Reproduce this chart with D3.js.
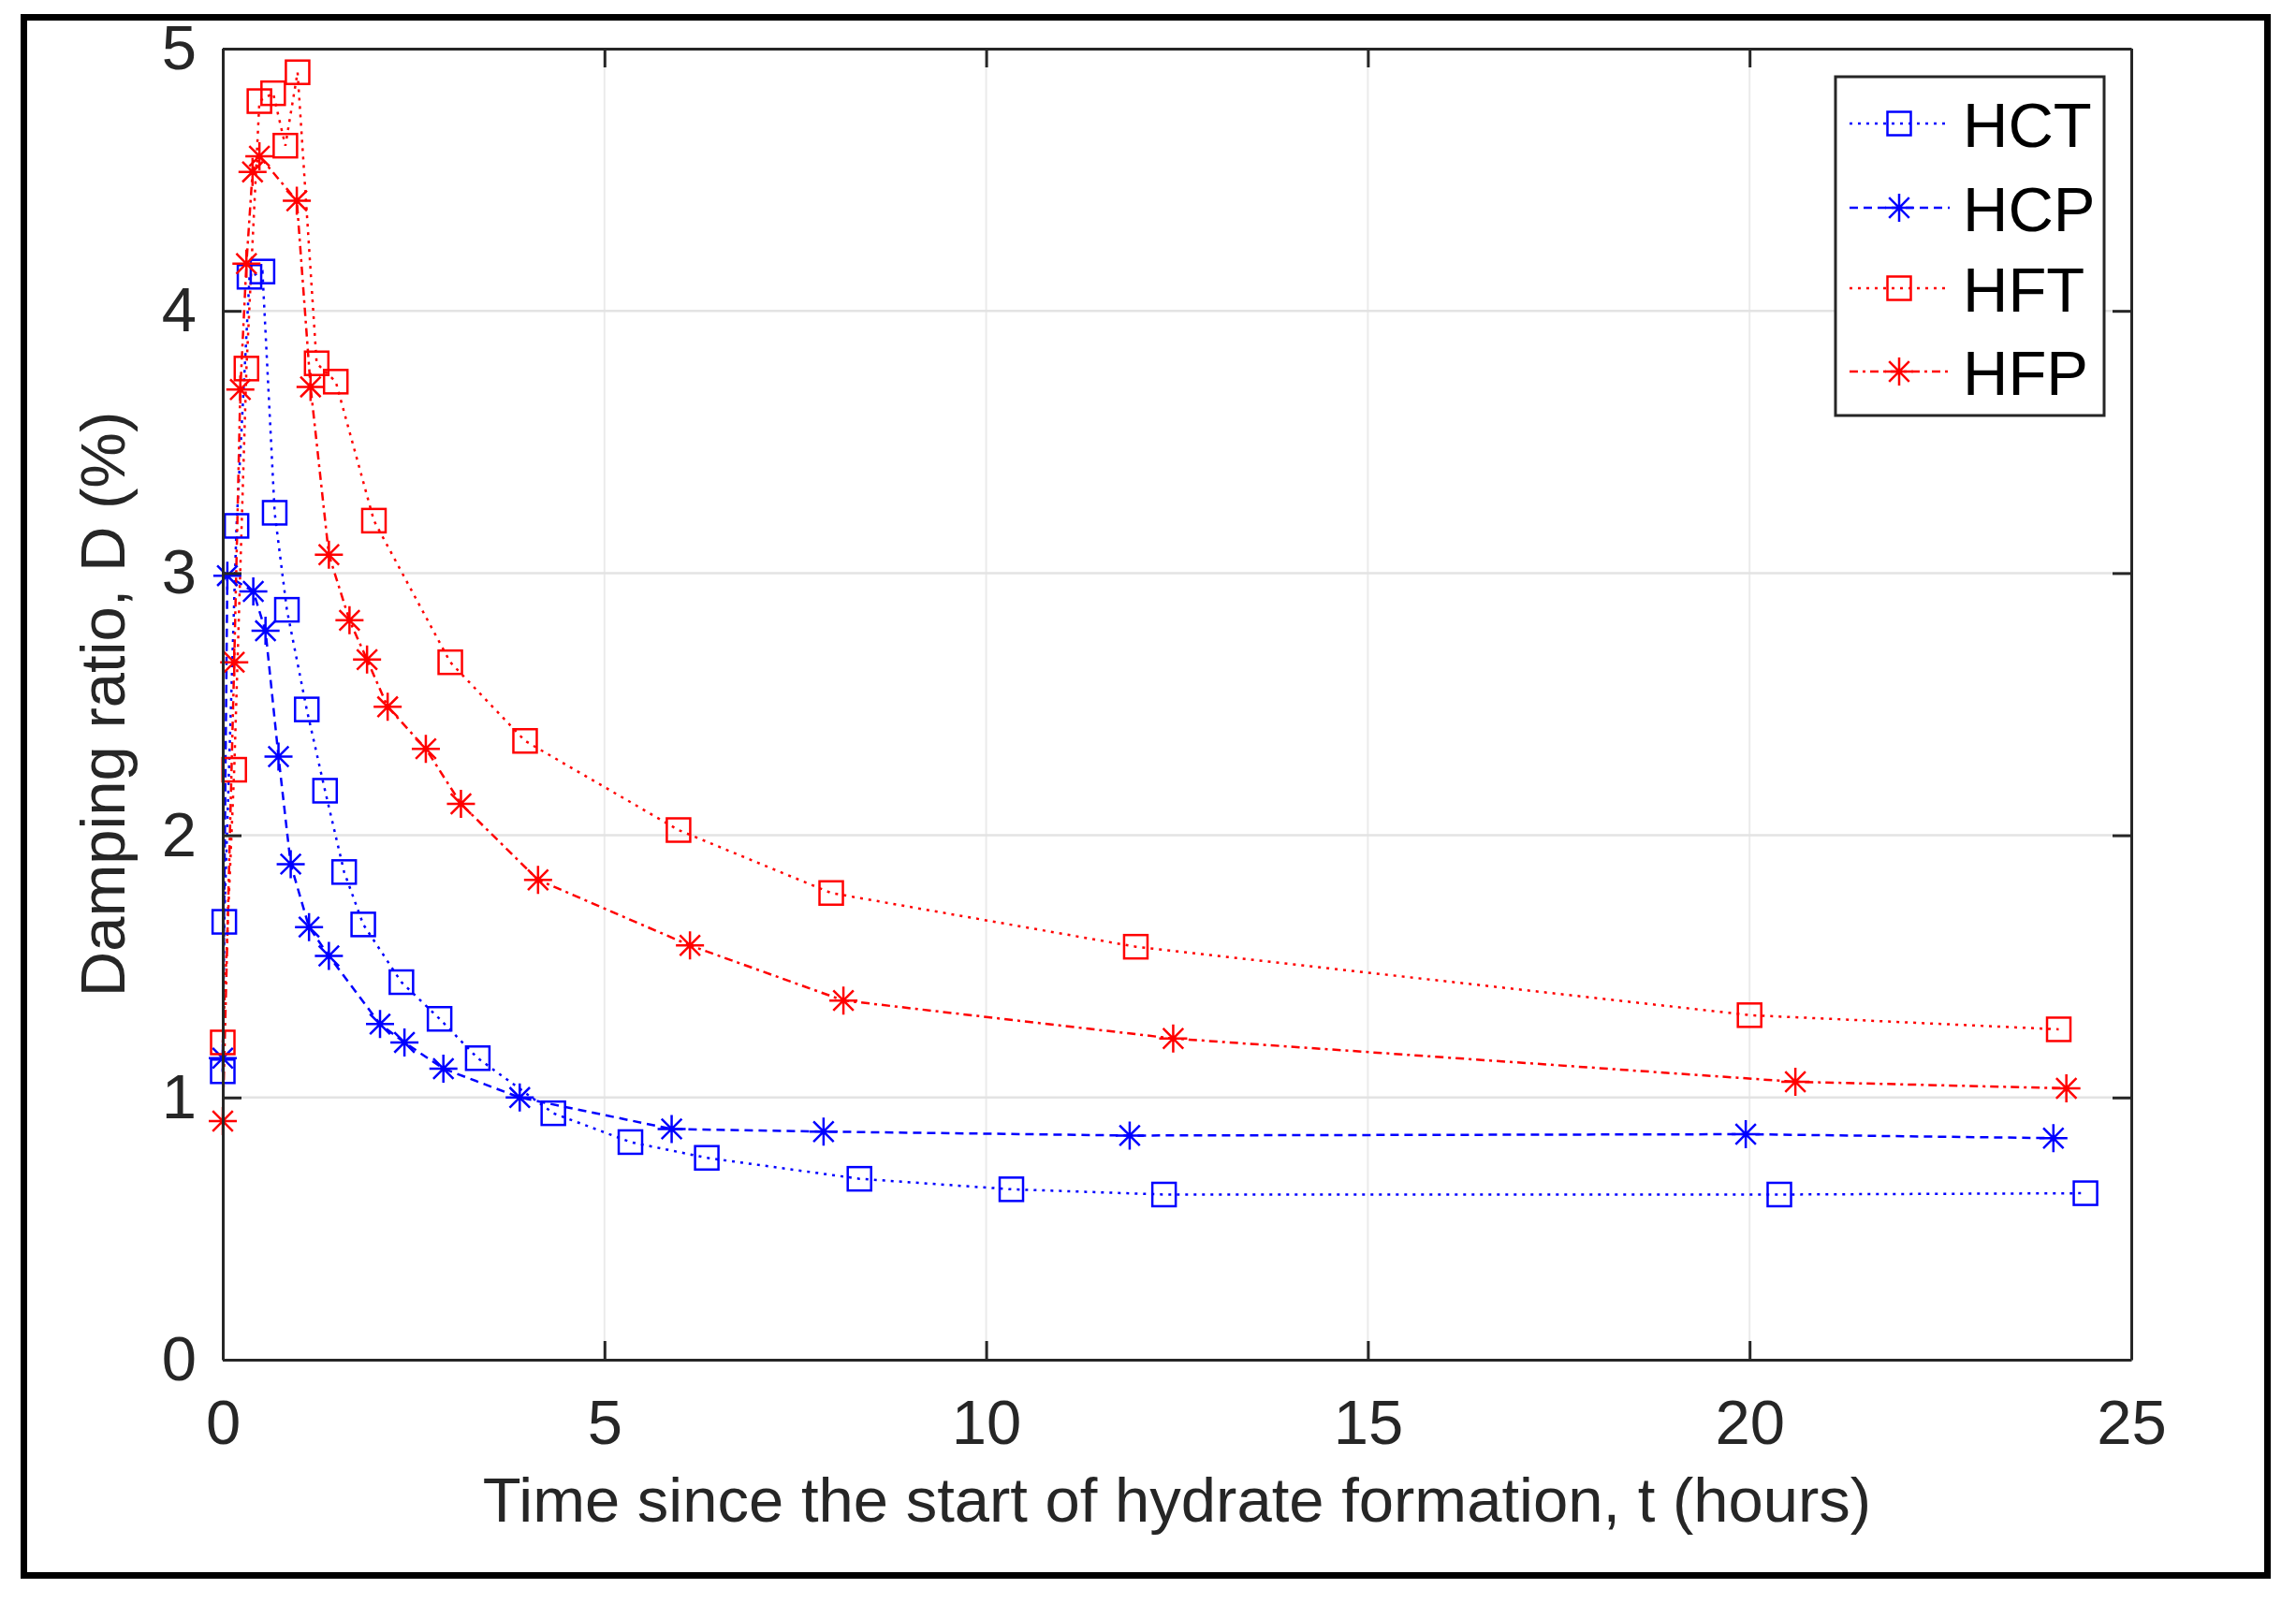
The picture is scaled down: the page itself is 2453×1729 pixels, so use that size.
<!DOCTYPE html>
<html lang="en">
<head>
<meta charset="UTF-8">
<title>Damping ratio vs time</title>
<style>
  body { margin: 0; background: #fff; }
  text { font-family: "Liberation Sans", Arial, sans-serif; }
</style>
</head>
<body>
<svg id="chart" width="2453" height="1729"></svg>
<script src="https://d3js.org/d3.v7.min.js"></script>
<script>
// values
const hctT = [0, 0.02, 0.18, 0.35, 0.52, 0.68, 0.84, 1.1, 1.34, 1.59, 1.84, 2.34, 2.84, 3.34, 4.33, 5.34, 6.34, 8.34, 10.33, 12.33, 20.39, 24.4];
const hctD = [1.1, 1.67, 3.18, 4.13, 4.15, 3.23, 2.86, 2.48, 2.17, 1.86, 1.66, 1.44, 1.3, 1.15, 0.94, 0.83, 0.77, 0.69, 0.65, 0.63, 0.63, 0.635];

const hcpT = [0, 0.06, 0.4, 0.56, 0.73, 0.89, 1.13, 1.39, 2.06, 2.38, 2.89, 3.89, 5.88, 7.87, 11.88, 19.95, 23.98];
const hcpD = [1.15, 2.99, 2.93, 2.78, 2.3, 1.89, 1.65, 1.54, 1.28, 1.21, 1.11, 1.0, 0.88, 0.87, 0.855, 0.86, 0.845];

const hftT = [0, 0.15, 0.31, 0.48, 0.66, 0.82, 0.98, 1.23, 1.48, 1.98, 2.98, 3.96, 5.97, 7.97, 11.96, 20.0, 24.05];
const hftD = [1.21, 2.25, 3.78, 4.8, 4.83, 4.63, 4.91, 3.8, 3.73, 3.2, 2.66, 2.36, 2.02, 1.78, 1.575, 1.314, 1.26];

const hfpT = [0, 0.15, 0.23, 0.31, 0.39, 0.48, 0.97, 1.15, 1.39, 1.66, 1.89, 2.16, 2.66, 3.12, 4.13, 6.12, 8.13, 12.45, 20.6, 24.15];
const hfpD = [0.91, 2.66, 3.7, 4.18, 4.53, 4.59, 4.42, 3.71, 3.07, 2.82, 2.67, 2.49, 2.33, 2.12, 1.83, 1.58, 1.37, 1.225, 1.06, 1.035];

const seriesNames = ["HCT", "HCP", "HFT", "HFP"];
const xTicks = [0, 5, 10, 15, 20, 25];
const yTicks = [0, 1, 2, 3, 4, 5];

const series = [
  { name: seriesNames[0], t: hctT, d: hctD, color: "#0000ff", marker: "square", dash: "3,6" },
  { name: seriesNames[1], t: hcpT, d: hcpD, color: "#0000ff", marker: "star", dash: "9,6" },
  { name: seriesNames[2], t: hftT, d: hftD, color: "#ff0000", marker: "square", dash: "3,6" },
  { name: seriesNames[3], t: hfpT, d: hfpD, color: "#ff0000", marker: "star", dash: "9,5,3,5" }
];

const svg = d3.select("#chart");
const pLeft = 238, pRight = 2277, pTop = 52, pBottom = 1453;
const axisColor = "#262626";

svg.append("rect").attr("width", 2453).attr("height", 1729).attr("fill", "#fff");

// outer frame
svg.append("rect")
  .attr("x", 25.5).attr("y", 18.5)
  .attr("width", 2397).attr("height", 1665)
  .attr("fill", "none").attr("stroke", "#000").attr("stroke-width", 7);

const x = d3.scaleLinear().domain([0, 25]).range([pLeft, pRight]);
const y = d3.scaleLinear().domain([0, 5]).range([pBottom, pTop]);

// grid
svg.append("g").selectAll("line").data(xTicks.slice(1, -1)).join("line")
  .attr("x1", d => x(d)).attr("x2", d => x(d))
  .attr("y1", pTop).attr("y2", pBottom)
  .attr("stroke", "#ebebeb").attr("stroke-width", 2);
svg.append("g").selectAll("line").data(yTicks.slice(1, -1)).join("line")
  .attr("x1", pLeft).attr("x2", pRight)
  .attr("y1", d => y(d)).attr("y2", d => y(d))
  .attr("stroke", "#e3e3e3").attr("stroke-width", 2.5);

// axes with inward ticks on all sides
const tickLen = 20;
const xAxisB = d3.axisBottom(x).tickValues(xTicks).tickFormat(d3.format("d"))
  .tickSizeInner(-tickLen).tickSizeOuter(0).tickPadding(tickLen + 22);
const xAxisT = d3.axisTop(x).tickValues(xTicks).tickSizeInner(-tickLen).tickSizeOuter(0).tickFormat("");
const yAxisL = d3.axisLeft(y).tickValues(yTicks).tickFormat(d3.format("d"))
  .tickSizeInner(-tickLen).tickSizeOuter(0).tickPadding(28);
const yAxisR = d3.axisRight(y).tickValues(yTicks).tickSizeInner(-tickLen).tickSizeOuter(0).tickFormat("");

function styleAxis(g) {
  g.select(".domain").attr("stroke", axisColor).attr("stroke-width", 3);
  g.selectAll(".tick line").attr("stroke", axisColor).attr("stroke-width", 3);
  g.selectAll(".tick text").attr("fill", "#262626").attr("font-size", 67)
    .attr("font-family", "Liberation Sans, Arial, sans-serif");
}

// data lines
const line = d3.line().x(p => x(p[0])).y(p => y(p[1]));
series.forEach(s => {
  const pts = s.t.map((t, i) => [t, s.d[i]]);
  svg.append("path").datum(pts)
    .attr("d", line)
    .attr("fill", "none")
    .attr("stroke", s.color)
    .attr("stroke-width", 2.5)
    .attr("stroke-dasharray", s.dash);
});

function drawMarker(g, cx, cy, type, color) {
  if (type === "square") {
    const h = 12.5;
    g.append("rect").attr("x", cx - h).attr("y", cy - h)
      .attr("width", 2 * h).attr("height", 2 * h)
      .attr("fill", "none").attr("stroke", color).attr("stroke-width", 2.5);
  } else {
    const r = 15, k = r * 0.72;
    const p = `M${cx - r},${cy}H${cx + r}M${cx},${cy - r}V${cy + r}` +
      `M${cx - k},${cy - k}L${cx + k},${cy + k}M${cx - k},${cy + k}L${cx + k},${cy - k}`;
    g.append("path").attr("d", p).attr("fill", "none")
      .attr("stroke", color).attr("stroke-width", 2.5);
  }
}

const markers = svg.append("g");
series.forEach(s => {
  s.t.forEach((t, i) => drawMarker(markers, x(t), y(s.d[i]), s.marker, s.color));
});

svg.append("g").attr("transform", `translate(0,${pBottom})`).call(xAxisB).call(styleAxis);
svg.append("g").attr("transform", `translate(0,${pTop})`).call(xAxisT).call(styleAxis);
svg.append("g").attr("transform", `translate(${pLeft},0)`).call(yAxisL).call(styleAxis);
svg.append("g").attr("transform", `translate(${pRight},0)`).call(yAxisR).call(styleAxis);

// axis labels
svg.append("text")
  .attr("x", (pLeft + pRight) / 2).attr("y", 1626)
  .attr("text-anchor", "middle").attr("font-size", 67).attr("fill", "#262626")
  .text("Time since the start of hydrate formation, t (hours)");
svg.append("text")
  .attr("transform", `translate(133,${(pTop + pBottom) / 2}) rotate(-90)`)
  .attr("text-anchor", "middle").attr("font-size", 67).attr("fill", "#262626")
  .text("Damping ratio, D (%)");

// legend
const lg = svg.append("g");
lg.append("rect").attr("x", 1961).attr("y", 82).attr("width", 287).attr("height", 362)
  .attr("fill", "#fff").attr("stroke", axisColor).attr("stroke-width", 3);
const rowY = [132, 222, 308, 397];
series.forEach((s, i) => {
  const ry = rowY[i];
  lg.append("line").attr("x1", 1976).attr("x2", 2083).attr("y1", ry).attr("y2", ry)
    .attr("stroke", s.color).attr("stroke-width", 2.5).attr("stroke-dasharray", s.dash);
  drawMarker(lg, 2029, ry, s.marker, s.color);
  lg.append("text").attr("x", 2097).attr("y", ry + 25)
    .attr("font-size", 67).attr("fill", "#000").text(s.name);
});
</script>
</body>
</html>
